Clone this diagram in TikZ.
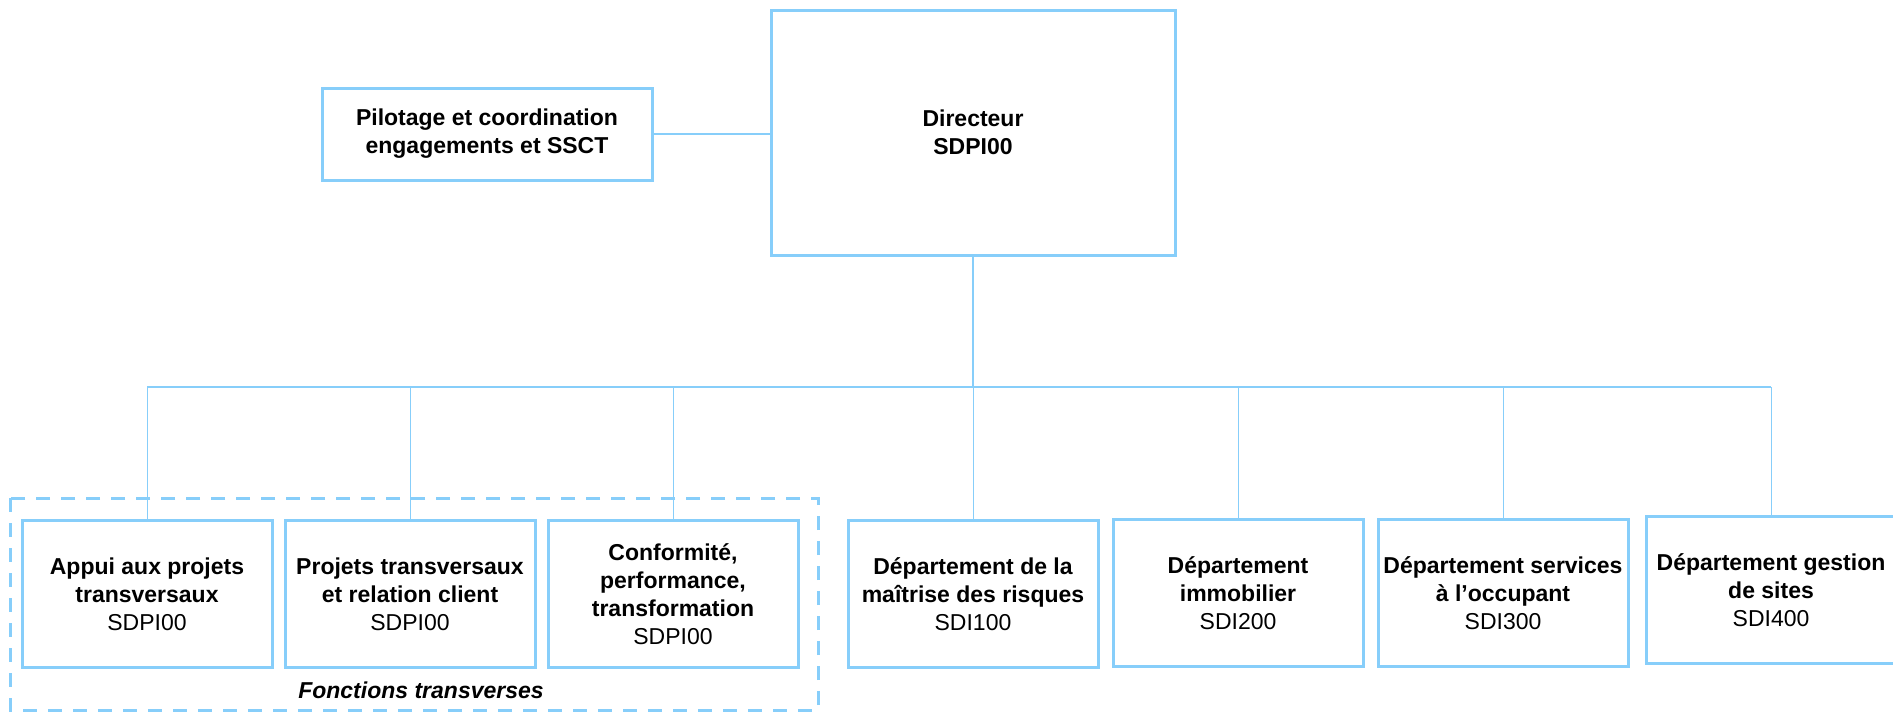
\documentclass[tikz,border=0pt]{standalone}
\usepackage{fontspec}
\setmainfont{Liberation Sans}
\definecolor{orgblue}{RGB}{135,206,250}

\begin{document}
\begin{tikzpicture}[x=0.5pt,y=-0.5pt,
    unit/.style={draw=orgblue, line width=1.5pt, align=center, inner sep=2pt,
      minimum width=125pt, minimum height=73.5pt,
      font=\fontsize{11.5}{14}\selectfont\bfseries},
    link/.style={draw=orgblue, line width=0.5pt}]
    \useasboundingbox (0,0) rectangle (1893,712);

    % Top level
    \node[unit, minimum width=202pt, minimum height=122.5pt] (dir) at (973,132.5) {Directeur\\SDPI00};
    \node[unit, minimum width=165pt, minimum height=46pt] (pil) at (487,134) {Pilotage et coordination\\engagements et SSCT};

    % Transverse functions
    \draw[orgblue, line width=1.5pt, dash pattern=on 7pt off 5.5pt] (10,498) rectangle (818,710);
    \node[font=\fontsize{11.5}{14}\selectfont\bfseries\itshape] (fct) at (421,690) {Fonctions transverses};

    % Units
    \node[unit] (appui) at (147,594) {Appui aux projets\\transversaux\\{\mdseries SDPI00}};
    \node[unit] (proj) at (410,594) {Projets transversaux\\et relation client\\{\mdseries SDPI00}};
    \node[unit] (conf) at (673,594) {Conformité,\\performance,\\transformation\\{\mdseries SDPI00}};
    \node[unit] (risq) at (973,594) {Département de la\\maîtrise des risques\\{\mdseries SDI100}};
    \node[unit] (immo) at (1238,593) {Département\\immobilier\\{\mdseries SDI200}};
    \node[unit] (occ) at (1503,593) {Département services\\à l’occupant\\{\mdseries SDI300}};
    \node[unit] (gest) at (1771,590) {Département gestion\\de sites\\{\mdseries SDI400}};

    % Connectors
    \coordinate (bus) at (973,387);
    \draw[link, line width=1pt] (pil.east) -- (pil.east -| dir.west);
    \draw[link, line width=1pt] (dir) -- (bus);
    \draw[link, line width=1pt] (appui.north |- bus) -- (gest.north |- bus);
    \foreach \n in {appui,proj,conf,risq,immo,occ,gest}
        \draw[link] (\n.north |- bus) -- (\n.north);
\end{tikzpicture}
\end{document}
